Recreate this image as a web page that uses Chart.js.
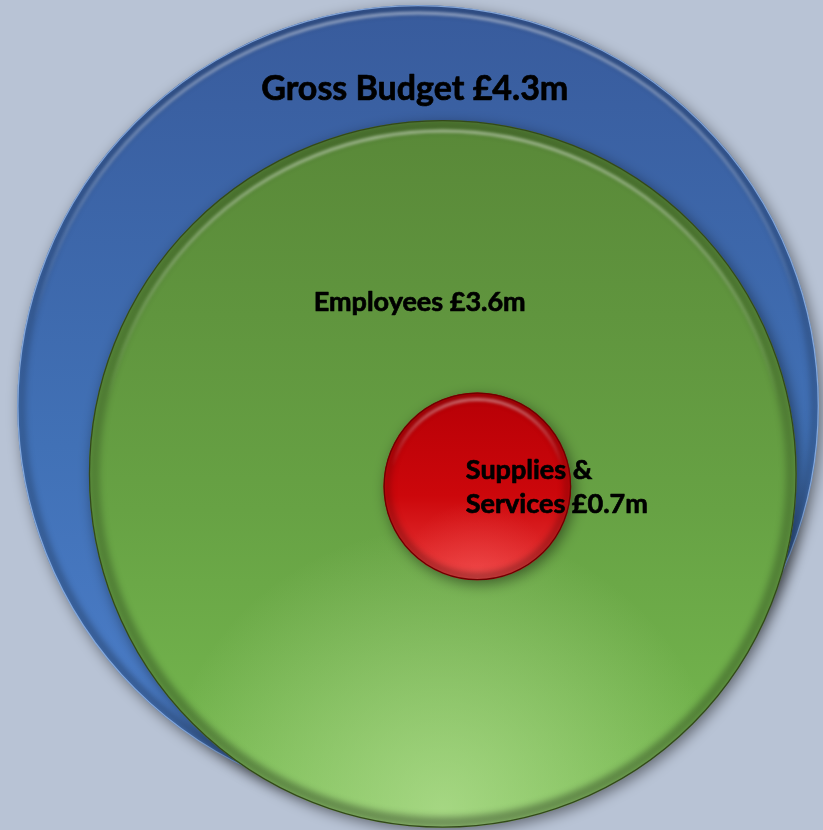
<!DOCTYPE html>
<html lang="en">
<head>
<meta charset="utf-8">
<title>Gross Budget</title>
<script src="https://cdn.jsdelivr.net/npm/chart.js@4.4.1/dist/chart.umd.min.js"></script>
<style>
  html, body { margin: 0; padding: 0; background: #b8c3d5; overflow: hidden; }
  #wrap { width: 823px; height: 830px; }
</style>
</head>
<body>
<div id="wrap"><canvas id="budgetChart" width="823" height="830"></canvas></div>
<script>
// === DATA ===
// Budget split in £ millions, bubble centres and radii in axis units (0-100 on both axes)
const CATEGORIES = ['Gross Budget', 'Employees', 'Supplies & Services'];
const BUDGET_M = [4.3, 3.6, 0.7];
const BUBBLE_X = [50.8, 53.8, 58.0];
const BUBBLE_Y = [51.1, 42.9, 41.4];
const BUBBLE_SIZE = [48.7, 43.0, 11.4];

// === STYLE ===
// fill stops top -> bottom
const FILLS = [
  ['#385b9c', '#4171b6', '#4d80cd'],
  ['#598838', '#67a244', '#78bc51'],
  ['#b70006', '#cc070b', '#ea3a3a']
];
const GLOWS = [null, [196, 234, 164, 0.6], [255, 110, 110, 0.3]];
const EDGES = ['rgba(150, 185, 235, 0.8)', '#33481b', '#6e0000'];
const RIM_WIDTH = [8, 11, 7];

// label placement, offset from each bubble centre in axis units
const LABEL_LAYOUT = [
  { dx: -0.4, dy: 36.9, size: 34, align: 'center', maxWidth: 700 },
  { dx: -2.8, dy: 19.6, size: 27, align: 'center', maxWidth: 700 },
  { dx: -1.4, dy: 0.9, size: 27, align: 'left', maxWidth: 200 }
];
const LABEL_FONT = 'Lato, "Open Sans", sans-serif';
const LINE_HEIGHT = 34;

function sizeToPixels(chart, size) {
  const xs = chart.scales.x;
  return Math.abs(xs.getPixelForValue(size) - xs.getPixelForValue(0));
}

function bubbleFill(context) {
  const chart = context.chart;
  const i = context.datasetIndex;
  const stops = FILLS[i];
  if (!chart.chartArea) return stops[1];
  const cy = chart.scales.y.getPixelForValue(BUBBLE_Y[i]);
  const r = sizeToPixels(chart, BUBBLE_SIZE[i]);
  const g = chart.ctx.createLinearGradient(0, cy - r, 0, cy + r);
  g.addColorStop(0, stops[0]);
  g.addColorStop(0.55, stops[1]);
  g.addColorStop(1, stops[2]);
  return g;
}

// soft glow, darker rim and a thin highlight near the top of each disc
function drawBevel(ctx, el, i) {
  const x = el.x, y = el.y, r = el.options.radius;
  const w = RIM_WIDTH[i];
  ctx.save();
  ctx.beginPath();
  ctx.arc(x, y, r, 0, Math.PI * 2);
  ctx.clip();

  const glow = GLOWS[i];
  if (glow) {
    const [gr, gg, gb, ga] = glow;
    const rg = ctx.createRadialGradient(x, y + r * 0.95, 0, x, y + r * 0.95, r * 0.8);
    rg.addColorStop(0, `rgba(${gr},${gg},${gb},${ga})`);
    rg.addColorStop(1, `rgba(${gr},${gg},${gb},0)`);
    ctx.fillStyle = rg;
    ctx.fillRect(x - r, y - r, r * 2, r * 2);
  }

  ctx.filter = 'blur(3px)';
  const rim = ctx.createLinearGradient(0, y - r, 0, y + r);
  rim.addColorStop(0, 'rgba(0,0,0,0.22)');
  rim.addColorStop(0.5, 'rgba(0,0,0,0.2)');
  rim.addColorStop(1, 'rgba(0,0,0,0.32)');
  ctx.lineWidth = w;
  ctx.strokeStyle = rim;
  ctx.beginPath();
  ctx.arc(x, y, r - w / 2, 0, Math.PI * 2);
  ctx.stroke();

  ctx.filter = 'blur(1.5px)';
  const hi = ctx.createLinearGradient(0, y - r, 0, y - r * 0.2);
  hi.addColorStop(0, 'rgba(255,255,255,0.5)');
  hi.addColorStop(1, 'rgba(255,255,255,0)');
  ctx.lineWidth = 3;
  ctx.strokeStyle = hi;
  ctx.beginPath();
  ctx.arc(x, y, r - w, 0, Math.PI * 2);
  ctx.stroke();
  ctx.restore();

  ctx.save();
  ctx.lineWidth = 1.3;
  ctx.strokeStyle = EDGES[i];
  ctx.beginPath();
  ctx.arc(x, y, r - 0.6, 0, Math.PI * 2);
  ctx.stroke();
  ctx.restore();
}

const bevelPlugin = {
  id: 'bevel',
  beforeDraw(chart) {
    const ctx = chart.ctx;
    ctx.save();
    ctx.fillStyle = '#b8c3d5';
    ctx.fillRect(0, 0, chart.width, chart.height);
    ctx.restore();
  },
  beforeDatasetDraw(chart) {
    const ctx = chart.ctx;
    ctx.save();
    ctx.shadowColor = 'rgba(0, 0, 0, 0.45)';
    ctx.shadowBlur = 14;
    ctx.shadowOffsetX = 3;
    ctx.shadowOffsetY = 4;
  },
  afterDatasetDraw(chart, args) {
    const ctx = chart.ctx;
    ctx.restore();
    args.meta.data.forEach(el => drawBevel(ctx, el, args.index));
  }
};

function wrapText(ctx, text, maxWidth) {
  const words = text.split(' ');
  const lines = [];
  let line = '';
  words.forEach(word => {
    const test = line ? line + ' ' + word : word;
    if (line && ctx.measureText(test).width > maxWidth) {
      lines.push(line);
      line = word;
    } else {
      line = test;
    }
  });
  lines.push(line);
  return lines;
}

const labelPlugin = {
  id: 'bubbleLabels',
  afterDatasetsDraw(chart) {
    const ctx = chart.ctx;
    const xs = chart.scales.x, ys = chart.scales.y;
    ctx.save();
    ctx.fillStyle = '#000';
    ctx.strokeStyle = '#000';
    ctx.lineWidth = 0.7;
    ctx.lineJoin = 'round';
    ctx.textBaseline = 'alphabetic';
    CATEGORIES.forEach((name, i) => {
      const lay = LABEL_LAYOUT[i];
      const text = `${name} £${BUDGET_M[i].toFixed(1)}m`;
      ctx.font = `bold ${lay.size}px ${LABEL_FONT}`;
      ctx.textAlign = lay.align;
      const px = xs.getPixelForValue(BUBBLE_X[i] + lay.dx);
      const py = ys.getPixelForValue(BUBBLE_Y[i] + lay.dy);
      wrapText(ctx, text, lay.maxWidth).forEach((line, n) => {
        ctx.fillText(line, px, py + n * LINE_HEIGHT);
        ctx.strokeText(line, px, py + n * LINE_HEIGHT);
      });
    });
    ctx.restore();
  }
};

const datasets = CATEGORIES.map((name, i) => ({
  label: name,
  data: [{ x: BUBBLE_X[i], y: BUBBLE_Y[i] }],
  order: CATEGORIES.length - i,
  clip: false,
  pointRadius: ctx => ctx.chart.chartArea ? sizeToPixels(ctx.chart, BUBBLE_SIZE[i]) : 0,
  pointBackgroundColor: bubbleFill,
  pointBorderWidth: 0,
  pointBorderColor: 'rgba(0,0,0,0)'
}));

new Chart(document.getElementById('budgetChart'), {
  type: 'scatter',
  data: { datasets },
  options: {
    responsive: false,
    animation: false,
    events: [],
    layout: { padding: 0 },
    scales: {
      x: { type: 'linear', min: 0, max: 100, display: false },
      y: { type: 'linear', min: 0, max: 100, display: false }
    },
    plugins: {
      legend: { display: false },
      tooltip: { enabled: false }
    }
  },
  plugins: [bevelPlugin, labelPlugin]
});
</script>
</body>
</html>
